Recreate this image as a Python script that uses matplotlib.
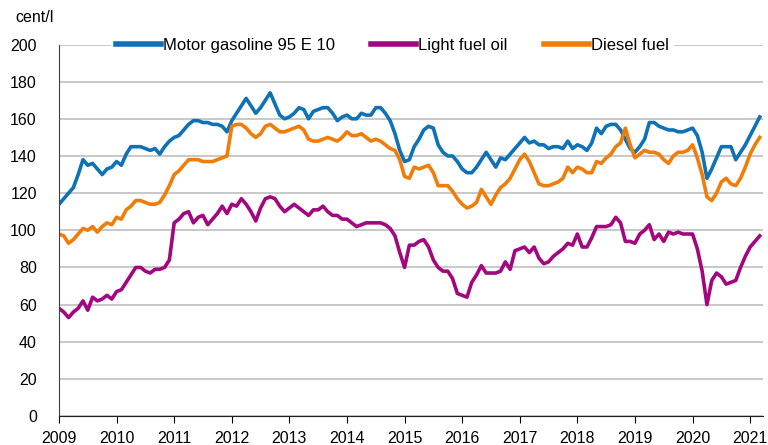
import numpy as np
import matplotlib.pyplot as plt

plt.rcParams['font.family'] = ['Liberation Sans', 'DejaVu Sans']

# monthly prices, cent/l, Jan 2009 - Mar 2021
gasoline = [
    114, 117, 120, 123, 130, 138, 135, 136, 133, 130, 133, 134,  # 2009
    137, 135, 141, 145, 145, 145, 144, 143, 144, 141, 145, 148,  # 2010
    150, 151, 154, 157, 159, 159, 158, 158, 157, 157, 156, 153,  # 2011
    159, 163, 167, 171, 167, 163, 166, 170, 174, 168, 162, 160,  # 2012
    161, 163, 166, 165, 160, 164, 165, 166, 166, 163, 159, 161,  # 2013
    162, 160, 160, 163, 162, 162, 166, 166, 163, 159, 152, 143,  # 2014
    137, 138, 145, 149, 154, 156, 155, 146, 142, 140, 140, 137,  # 2015
    133, 131, 131, 134, 138, 142, 138, 134, 139, 138, 141, 144,  # 2016
    147, 150, 147, 148, 146, 146, 144, 145, 145, 144, 148, 144,  # 2017
    146, 145, 143, 147, 155, 152, 156, 157, 157, 154, 149, 144,  # 2018
    142, 145, 149, 158, 158, 156, 155, 154, 154, 153, 153, 154,  # 2019
    155, 151, 142, 128, 133, 139, 145, 145, 145, 138, 142, 146,  # 2020
    151, 156, 161,                                               # 2021
]
fuel_oil = [
    58, 56, 53, 56, 58, 62, 57, 64, 62, 63, 65, 63,
    67, 68, 72, 76, 80, 80, 78, 77, 79, 79, 80, 84,
    104, 106, 109, 110, 104, 107, 108, 103, 106, 109, 113, 109,
    114, 113, 117, 114, 110, 105, 112, 117, 118, 117, 113, 110,
    112, 114, 112, 110, 108, 111, 111, 113, 110, 108, 108, 106,
    106, 104, 102, 103, 104, 104, 104, 104, 103, 101, 97, 88,
    80, 92, 92, 94, 95, 91, 84, 80, 78, 78, 74, 66,
    65, 64, 72, 76, 81, 77, 77, 77, 78, 83, 79, 89,
    90, 91, 88, 91, 85, 82, 83, 86, 88, 90, 93, 92,
    98, 91, 91, 96, 102, 102, 102, 103, 107, 104, 94, 94,
    93, 98, 100, 103, 95, 98, 94, 99, 98, 99, 98, 98,
    98, 90, 78, 60, 73, 77, 75, 71, 72, 73, 80, 86,
    91, 94, 97,
]
diesel = [
    98, 97, 93, 95, 98, 101, 100, 102, 99, 102, 104, 103,
    107, 106, 111, 113, 116, 116, 115, 114, 114, 115, 119, 124,
    130, 132, 135, 138, 138, 138, 137, 137, 137, 138, 139, 140,
    156, 157, 157, 155, 152, 150, 152, 156, 157, 155, 153, 153,
    154, 155, 156, 154, 149, 148, 148, 149, 150, 149, 148, 150,
    153, 151, 151, 152, 150, 148, 149, 148, 146, 144, 143, 138,
    129, 128, 134, 133, 134, 135, 131, 124, 124, 124, 121, 117,
    114, 112, 113, 115, 122, 118, 114, 119, 123, 125, 128, 133,
    138, 141, 137, 131, 125, 124, 124, 125, 126, 128, 134, 131,
    134, 133, 131, 131, 137, 136, 139, 141, 145, 147, 155, 146,
    139, 141, 143, 142, 142, 141, 138, 136, 140, 142, 142, 143,
    146, 139, 130, 118, 116, 120, 126, 128, 125, 124, 128, 134,
    141, 146, 150,
]
labels = ['Motor gasoline 95 E 10', 'Light fuel oil', 'Diesel fuel']
colors = ['#0f72b4', '#a3077f', '#f07d0a']
years = list(range(2009, 2022))

t = 2009 + np.arange(len(gasoline)) / 12

fig = plt.figure(figsize=(7.68, 4.45), dpi=100)
ax = fig.add_axes([0.0768, 0.065, 0.9172, 0.835])

for vals, lab, col in zip([gasoline, fuel_oil, diesel], labels, colors):
    ax.plot(t, vals, color=col, lw=2.6, label=lab, solid_joinstyle='round')

ax.set_xlim(2009, 2021.23)
ax.set_ylim(0, 200)
ax.set_yticks(range(0, 201, 20))
ax.set_xticks(years)
ax.set_xticklabels([str(y) for y in years])
ax.grid(axis='y', color='#c4c4c4', lw=1.3)
ax.set_axisbelow(True)

for s in ['top', 'right']:
    ax.spines[s].set_visible(False)
ax.spines['left'].set_color('#404040')
ax.spines['bottom'].set_color('#202020')
ax.tick_params(axis='y', length=0, pad=16, labelsize=11.5)
ax.tick_params(axis='x', length=5, pad=6, labelsize=11.5, direction='out')

fig.text(0.02, 0.96, 'cent/l', fontsize=11.5, va='center', ha='left')

leg = ax.legend(loc='center', bbox_to_anchor=(0.4734, 0.997), ncol=3,
                frameon=True, fontsize=12, handlelength=2.7, handletextpad=0.12,
                columnspacing=2.2, borderpad=0.3, borderaxespad=0)
leg.get_frame().set_facecolor('white')
leg.get_frame().set_edgecolor('none')
leg.get_frame().set_alpha(1)
for h in leg.get_lines():
    h.set_linewidth(4)

fig.savefig('out.png', dpi=100)
